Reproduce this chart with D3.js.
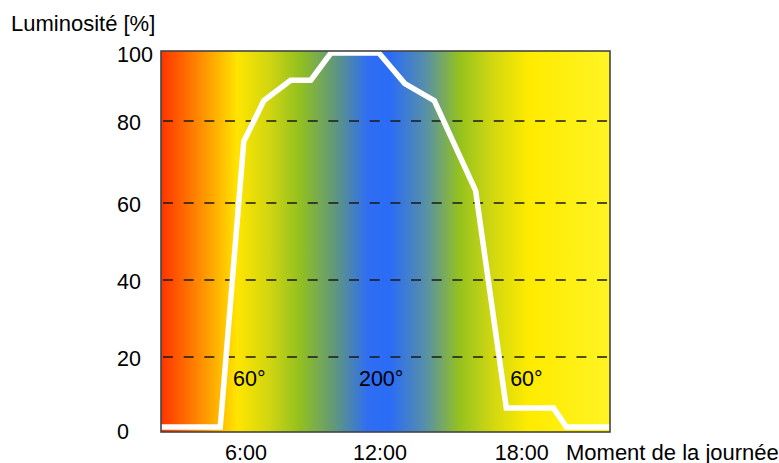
<!DOCTYPE html>
<html><head><meta charset="utf-8">
<script src="https://cdn.jsdelivr.net/npm/d3@7"></script>
<style>html,body{margin:0;padding:0;background:#fff;} text{font-family:"Liberation Sans",Arial,Helvetica,sans-serif;fill:#000;}</style>
</head><body>
<svg id="chart" width="779" height="463"></svg>
<script>
// ---- data ----
const hours      = [2.2, 4.85, 5.9, 6.8, 8.0, 8.9, 9.8, 11.95, 13.05, 14.3, 16.05, 17.35, 19.35, 19.9, 21.75];
const luminosity = [0.8, 0.8, 75, 86, 92, 92, 100, 100, 91, 86, 63, 6, 6, 0.8, 0.8];
const yTicks     = [0, 20, 40, 60, 80, 100];
const gridValues = [20, 40, 60, 80];
const xTicks     = [6, 12, 18];
const xTickLabels= ["6:00", "12:00", "18:00"];
const angleLabels= ["60°", "200°", "60°"];
const angleHours = [6.15, 12.05, 18.2];
const angleLevel = 12;
const yTitle = "Luminosité [%]";
const xTitle = "Moment de la journée";

// ---- style ----
const gradStops = [
  [0.00, "#ff3400"], [0.09, "#ff8f00"], [0.17, "#ffe500"], [0.24, "#d2d610"],
  [0.31, "#92c020"], [0.39, "#5e9680"], [0.46, "#2f6ef2"], [0.51, "#2a6cf6"],
  [0.59, "#5890a8"], [0.665, "#95c21e"], [0.74, "#d2d810"], [0.82, "#ffeb00"],
  [1.00, "#fff424"]
];

const svg = d3.select("#chart");
const x = d3.scaleLinear().domain([2.2, 6, 12, 18, 21.75]).range([161, 246, 380, 521.7, 610]);
const y = d3.scaleLinear().domain([0, 20, 40, 60, 80, 100]).range([430, 357, 280, 203, 121, 53]);

const x0 = x(hours[0]), x1 = x(hours[hours.length - 1]);
const yTop = y(100) - 2, yBot = y(0) + 2;

const defs = svg.append("defs");
const grad = defs.append("linearGradient").attr("id", "bg")
  .attr("gradientUnits", "userSpaceOnUse")
  .attr("x1", x0).attr("x2", x1).attr("y1", 0).attr("y2", 0);
gradStops.forEach(s => grad.append("stop").attr("offset", s[0]).attr("stop-color", s[1]));

svg.append("rect").attr("x", x0).attr("y", yTop).attr("width", x1 - x0).attr("height", yBot - yTop)
  .attr("fill", "url(#bg)");

// grid
svg.append("g").selectAll("line").data(gridValues).join("line")
  .attr("x1", x0 + 2).attr("x2", x1).attr("y1", d => y(d)).attr("y2", d => y(d))
  .attr("stroke", "#1a1a1a").attr("stroke-width", 1.3).attr("stroke-dasharray", "10,10.67");

// line
const line = d3.line().x((d, i) => x(hours[i])).y(d => y(d));
svg.append("path").datum(luminosity).attr("d", line)
  .attr("fill", "none").attr("stroke", "#fff").attr("stroke-width", 5.5)
  .attr("stroke-linejoin", "miter");

// frame
svg.append("rect").attr("x", x0).attr("y", yTop).attr("width", x1 - x0).attr("height", yBot - yTop)
  .attr("fill", "none").attr("stroke", "#444").attr("stroke-width", 1.6);

// y labels
svg.append("g").selectAll("text").data(yTicks).join("text")
  .attr("x", 117).attr("y", d => y(d) + 1.5).attr("dy", "0.35em")
  .style("font-size", "21.5px").text(d => d);

// x labels
svg.append("g").selectAll("text").data(xTicks).join("text")
  .attr("x", d => x(d)).attr("y", 459.5).attr("text-anchor", "middle")
  .style("font-size", "21.5px").text((d, i) => xTickLabels[i]);

// angle labels
svg.append("g").selectAll("text").data(angleLabels).join("text")
  .attr("x", (d, i) => x(angleHours[i])).attr("y", y(angleLevel)).attr("text-anchor", "middle")
  .style("font-size", "21.5px").text(d => d);

// titles
svg.append("text").attr("x", 11).attr("y", 31).style("font-size", "22px").text(yTitle);
svg.append("text").attr("x", 566).attr("y", 459.5).style("font-size", "22px").text(xTitle);
</script>
</body></html>
